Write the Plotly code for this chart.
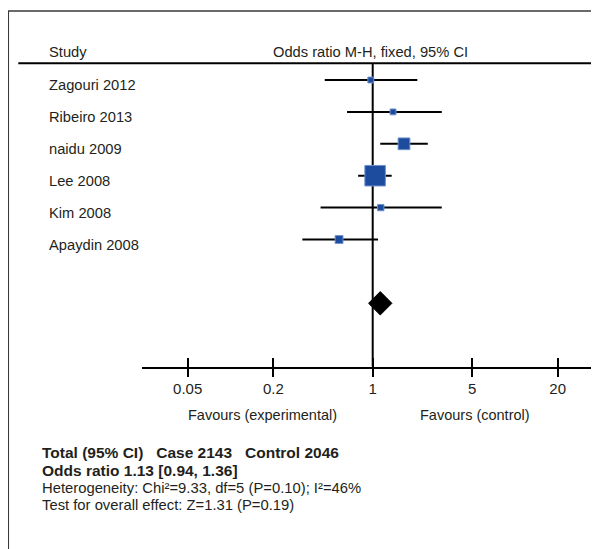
import math
import plotly.graph_objects as go

# ---- data ----
studies = ["Zagouri 2012", "Ribeiro 2013", "naidu 2009", "Lee 2008", "Kim 2008", "Apaydin 2008"]
odds_ratio = [0.97, 1.39, 1.66, 1.04, 1.14, 0.58]
ci_low = [0.46, 0.66, 1.13, 0.79, 0.43, 0.32]
ci_high = [2.06, 3.06, 2.44, 1.36, 3.06, 1.09]
weights = [4.7, 4.7, 18.9, 57.8, 5.5, 8.4]

pooled_or = 1.13
pooled_low = 0.94
pooled_high = 1.36

tick_values = [0.05, 0.2, 1, 5, 20]
tick_labels = ["0.05", "0.2", "1", "5", "20"]

header_left = "Study"
header_right = "Odds ratio M-H, fixed, 95% CI"
favours_left = "Favours (experimental)"
favours_right = "Favours (control)"
footer_lines = [
    "<b>Total (95% CI)\u00a0\u00a0\u00a0Case 2143\u00a0\u00a0\u00a0Control 2046</b>",
    "<b>Odds ratio 1.13 [0.94, 1.36]</b>",
    "Heterogeneity: Chi\u00b2=9.33, df=5 (P=0.10); I\u00b2=46%",
    "Test for overall effect: Z=1.31 (P=0.19)",
]

# ---- layout helpers ----
W, H = 599, 549
OFF = 8  # page body margin
FONT = "Liberation Sans, Arial, sans-serif"
TXT = "#231f20"


def px(x):
    return (x - OFF) / W


def py(y):
    return 1 - (y - OFF) / H


row_px0, row_step = 80.0, 31.9
axis_px = 366.7
rows = list(range(len(studies)))
pooled_row = 7
header_row = (63.3 - row_px0) / row_step
y_top = (OFF - row_px0) / row_step
y_bot = (axis_px - row_px0) / row_step

fig = go.Figure()

# reference line at OR = 1
fig.add_trace(go.Scatter(x=[1, 1], y=[header_row, y_bot], mode="lines",
                         line=dict(color="black", width=2), hoverinfo="skip", showlegend=False))

# studies: CI lines + weighted squares
fig.add_trace(go.Scatter(
    x=odds_ratio, y=rows, mode="markers",
    error_x=dict(type="data", symmetric=False,
                 array=[h - o for h, o in zip(ci_high, odds_ratio)],
                 arrayminus=[o - l for o, l in zip(odds_ratio, ci_low)],
                 color="black", thickness=2, width=0),
    marker=dict(symbol="square", size=[2.7 * w ** 0.5 for w in weights], opacity=1,
                color="#1d4c9f", line=dict(color="#6f90cc", width=1)),
    showlegend=False))

# pooled diamond
fig.add_trace(go.Scatter(x=[pooled_or], y=[pooled_row], mode="markers",
                         marker=dict(symbol="diamond", size=18, color="black", opacity=1,
                                     line=dict(color="black", width=1)),
                         showlegend=False))

x_lo, x_hi = -1.6245, 1.5471
axis_common = dict(type="log", range=[x_lo, x_hi], domain=[px(141.7), px(592.7)],
                   showgrid=False, zeroline=False, tickvals=tick_values)
fig.update_layout(
    width=W, height=H, margin=dict(l=0, r=0, t=0, b=0),
    paper_bgcolor="white", plot_bgcolor="white",
    font=dict(family=FONT, color=TXT, size=14.7),
    xaxis=dict(**axis_common, ticktext=tick_labels, ticks="outside", ticklen=8, tickwidth=2,
               tickcolor="black", showline=True, linewidth=2, linecolor="black",
               tickfont=dict(size=15, family=FONT, color=TXT), anchor="y",
               ticklabelstandoff=-1),
    xaxis2=dict(**axis_common, overlaying="x", anchor="y", side="bottom", ticks="inside",
                ticklen=9, tickwidth=2, tickcolor="black", showticklabels=False, showline=False),
    yaxis=dict(range=[y_bot, y_top], domain=[py(axis_px), 1], visible=False),
)
# invisible trace to activate xaxis2
fig.add_trace(go.Scatter(x=[1], y=[pooled_row], xaxis="x2", mode="markers",
                         marker=dict(opacity=0), hoverinfo="skip", showlegend=False))

# outer frame (clipped on right/bottom as in reference)
fig.add_shape(type="rect", xref="paper", yref="paper", x0=px(8.3), x1=1.2,
              y0=-0.2, y1=py(11), line=dict(color="#3a3a3a", width=1.5))
# header rule
fig.add_shape(type="line", xref="paper", yref="y", x0=px(18.3), x1=px(592.3),
              y0=header_row, y1=header_row, line=dict(color="black", width=2))

ann = []
ann.append(dict(text=header_left, x=px(47.3), xref="paper", xanchor="left",
                y=header_row, yref="y", yanchor="bottom", yshift=1, showarrow=False,
                font=dict(size=14.7)))
ann.append(dict(text=header_right, x=math.log10(1), xref="x", xanchor="center", xshift=-2,
                y=header_row, yref="y", yanchor="bottom", yshift=1, showarrow=False,
                font=dict(size=14.7)))
for r, s in zip(rows, studies):
    ann.append(dict(text=s, x=px(47.3), xref="paper", xanchor="left", y=r, yref="y",
                    yanchor="middle", yshift=-5, showarrow=False, font=dict(size=14.7)))
ann.append(dict(text=favours_left, x=px(262.7), xref="paper", xanchor="center",
                y=py(415), yref="paper", yanchor="middle", showarrow=False, font=dict(size=14.5)))
ann.append(dict(text=favours_right, x=px(474.5), xref="paper", xanchor="center",
                y=py(415), yref="paper", yanchor="middle", showarrow=False, font=dict(size=14.5)))
for yc, line, fs in zip([452, 470, 488, 504.5], footer_lines, [15.5, 15.5, 14.8, 14.8]):
    ann.append(dict(text=line, x=px(40), xref="paper", xanchor="left",
                    y=py(yc), yref="paper", yanchor="middle", showarrow=False,
                    font=dict(size=fs)))
fig.update_layout(annotations=ann)

fig.write_html("out.html")
